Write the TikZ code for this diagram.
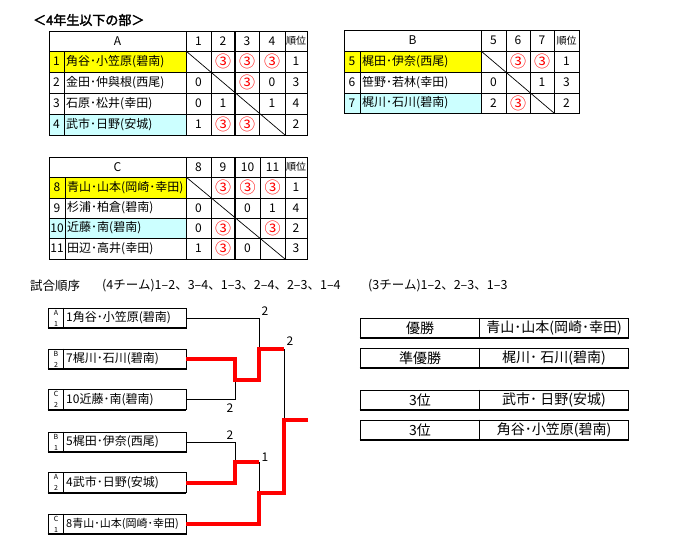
\documentclass[tikz,border=0pt]{standalone}
\usepackage{fontspec}
\setmainfont{Noto Sans CJK JP}
\newfontfamily\titlefont[FakeBold=2.5]{Noto Sans CJK JP}
\definecolor{tyel}{HTML}{FFFF00}
\definecolor{tcyan}{HTML}{CCFFFF}
\definecolor{tred}{HTML}{FF0000}
\newcommand\mk{{\fontsize{16}{16}\selectfont\textcolor{tred}{③}}}
\begin{document}
\begin{tikzpicture}[x=1pt,y=-1pt,
  grid/.style={line width=0.9pt,black},
  thickgrid/.style={line width=2pt,black},
  txt/.style={inner sep=0pt,font=\fontsize{12}{12}\selectfont},
  nm/.style={txt,anchor=west},
  ord/.style={inner sep=0pt,anchor=west,font=\fontsize{12.5}{12.5}\selectfont},
  rk/.style={inner sep=0pt,font=\fontsize{10}{10}\selectfont},
  tiny/.style={inner sep=0pt,font=\fontsize{7}{7}\selectfont},
  bbox/.style={draw,line width=0.9pt,minimum width=138pt,minimum height=20pt,inner sep=0pt},
  rbox/.style={draw,line width=0.9pt,minimum width=268pt,minimum height=20pt,inner sep=0pt},
  rtxt/.style={inner sep=0pt,font=\fontsize{14}{14}\selectfont},
  win/.style={line width=4pt,tred},
  lose/.style={line width=0.9pt,black},
  lbl/.style={inner sep=0pt,font=\fontsize{12}{12}\selectfont}]
\useasboundingbox[fill=white] (0,0) rectangle (682,547);

% title
\node[anchor=west,inner sep=0pt,font=\titlefont\fontsize{13}{13}\selectfont] (title) at (33,20) {＜4年生以下の部＞};

% ---------- Table A ----------
\fill[tyel] (49,51) rectangle (186,72);
\fill[tcyan] (49,114) rectangle (186,135);
\draw[grid] (49,31) rectangle (307,135);
\foreach \y in {51,72,93,114} \draw[grid] (49,\y) -- (307,\y);
\draw[grid] (64,51) -- (64,135);
\foreach \x in {186,211,259,285} \draw[grid] (\x,31) -- (\x,135);
\draw[thickgrid] (235,31) -- (235,135);
\draw[line width=0.7pt] (186,51) -- (285,135);
\node[txt] (Ah) at (117.5,41) {A};
\node[txt] (Ah1) at (198.5,41) {1};
\node[txt] (Ah2) at (223,41) {2};
\node[txt] (Ah3) at (247,41) {3};
\node[txt] (Ah4) at (272,41) {4};
\node[rk] (Ahr) at (296,41) {順位};
\node[txt] (A1n) at (56.5,61.5) {1};
\node[nm] (A1m) at (66,61.5) {角谷･小笠原(碧南)};
\node[txt] (A12) at (223,61.5) {\mk};
\node[txt] (A13) at (247,61.5) {\mk};
\node[txt] (A14) at (272,61.5) {\mk};
\node[txt] (A1r) at (296,61.5) {1};
\node[txt] (A2n) at (56.5,82.5) {2};
\node[nm] (A2m) at (66,82.5) {金田･仲與根(西尾)};
\node[txt] (A21) at (198.5,82.5) {0};
\node[txt] (A23) at (247,82.5) {\mk};
\node[txt] (A24) at (272,82.5) {0};
\node[txt] (A2r) at (296,82.5) {3};
\node[txt] (A3n) at (56.5,103.5) {3};
\node[nm] (A3m) at (66,103.5) {石原･松井(幸田)};
\node[txt] (A31) at (198.5,103.5) {0};
\node[txt] (A32) at (223,103.5) {1};
\node[txt] (A34) at (272,103.5) {1};
\node[txt] (A3r) at (296,103.5) {4};
\node[txt] (A4n) at (56.5,124.5) {4};
\node[nm] (A4m) at (66,124.5) {武市･日野(安城)};
\node[txt] (A41) at (198.5,124.5) {1};
\node[txt] (A42) at (223,124.5) {\mk};
\node[txt] (A43) at (247,124.5) {\mk};
\node[txt] (A4r) at (296,124.5) {2};

% ---------- Table B ----------
\fill[tyel] (344,51) rectangle (481,72);
\fill[tcyan] (344,93) rectangle (481,113);
\draw[grid] (344,30) rectangle (579,113);
\foreach \y in {51,72,93} \draw[grid] (344,\y) -- (579,\y);
\draw[grid] (360,51) -- (360,113);
\foreach \x in {481,506,530,554} \draw[grid] (\x,30) -- (\x,113);
\draw[line width=0.7pt] (481,51) -- (554,113);
\node[txt] (Bh) at (412.5,40.5) {B};
\node[txt] (Bh5) at (493.5,40.5) {5};
\node[txt] (Bh6) at (518,40.5) {6};
\node[txt] (Bh7) at (542,40.5) {7};
\node[rk] (Bhr) at (566.5,40.5) {順位};
\node[txt] (B5n) at (352,61.5) {5};
\node[nm] (B5m) at (362,61.5) {梶田･伊奈(西尾)};
\node[txt] (B56) at (518,61.5) {\mk};
\node[txt] (B57) at (542,61.5) {\mk};
\node[txt] (B5r) at (566.5,61.5) {1};
\node[txt] (B6n) at (352,82.5) {6};
\node[nm] (B6m) at (362,82.5) {笹野･若林(幸田)};
\node[txt] (B65) at (493.5,82.5) {0};
\node[txt] (B67) at (542,82.5) {1};
\node[txt] (B6r) at (566.5,82.5) {3};
\node[txt] (B7n) at (352,103) {7};
\node[nm] (B7m) at (362,103) {梶川･石川(碧南)};
\node[txt] (B75) at (493.5,103) {2};
\node[txt] (B76) at (518,103) {\mk};
\node[txt] (B7r) at (566.5,103) {2};

% ---------- Table C ----------
\fill[tyel] (49,177) rectangle (186,198);
\fill[tcyan] (49,218) rectangle (186,238);
\draw[grid] (49,157) rectangle (307,259);
\foreach \y in {177,198,218,238} \draw[grid] (49,\y) -- (307,\y);
\draw[grid] (65,177) -- (65,259);
\foreach \x in {186,211,260,285} \draw[grid] (\x,157) -- (\x,259);
\draw[thickgrid] (235,157) -- (235,259);
\draw[line width=0.7pt] (186,177) -- (285,259);
\node[txt] (Ch) at (117.5,167) {C};
\node[txt] (Ch8) at (198.5,167) {8};
\node[txt] (Ch9) at (223,167) {9};
\node[txt] (Ch10) at (247.5,167) {10};
\node[txt] (Ch11) at (272.5,167) {11};
\node[rk] (Chr) at (296,167) {順位};
\node[txt] (C8n) at (57,187.5) {8};
\node[nm] (C8m) at (67,187.5) {青山･山本(岡崎･幸田)};
\node[txt] (C89) at (223,187.5) {\mk};
\node[txt] (C810) at (247.5,187.5) {\mk};
\node[txt] (C811) at (272.5,187.5) {\mk};
\node[txt] (C8r) at (296,187.5) {1};
\node[txt] (C9n) at (57,208) {9};
\node[nm] (C9m) at (67,208) {杉浦･柏倉(碧南)};
\node[txt] (C98) at (198.5,208) {0};
\node[txt] (C910) at (247.5,208) {0};
\node[txt] (C911) at (272.5,208) {1};
\node[txt] (C9r) at (296,208) {4};
\node[txt] (C10n) at (57,228) {10};
\node[nm] (C10m) at (67,228) {近藤･南(碧南)};
\node[txt] (C108) at (198.5,228) {0};
\node[txt] (C109) at (223,228) {\mk};
\node[txt] (C1011) at (272.5,228) {\mk};
\node[txt] (C10r) at (296,228) {2};
\node[txt] (C11n) at (57,248.5) {11};
\node[nm] (C11m) at (67,248.5) {田辺･高井(幸田)};
\node[txt] (C118) at (198.5,248.5) {1};
\node[txt] (C119) at (223,248.5) {\mk};
\node[txt] (C1110) at (247.5,248.5) {0};
\node[txt] (C11r) at (296,248.5) {3};

% ---------- match order ----------
\node[ord] (mo1) at (30,286) {試合順序};
\node[ord] (mo2) at (102,286) {(4チーム)1–2、3–4、1–3、2–4、2–3、1–4};
\node[ord] (mo3) at (368,286) {(3チーム)1–2、2–3、1–3};

% ---------- bracket boxes ----------
\foreach \n/\y/\g/\s/\t in {
  t1/318/A/1/{1角谷･小笠原(碧南)},
  t2/359/B/2/{7梶川･石川(碧南)},
  t3/399.5/C/2/{10近藤･南(碧南)},
  t4/442/B/1/{5梶田･伊奈(西尾)},
  t5/482.5/A/2/{4武市･日野(安城)},
  t6/524/C/1/{\fontsize{11}{11}\selectfont 8青山･山本(岡崎･幸田)}} {
  \node[bbox] (\n) at (117,\y) {};
  \draw[line width=0.9pt] ([xshift=16pt]\n.north west) -- ([xshift=16pt]\n.south west);
  \draw[line width=2pt] (\n.south west) -- (\n.south east);
  \draw[line width=1.6pt] (\n.south east) -- (\n.north east);
  \node[tiny] (\n g) at (56,\y-5.5) {\g};
  \node[tiny] (\n s) at (56,\y+5.5) {\s};
  \node[nm] (\n m) at (66,\y) {\t};
}

% junction coordinates
\coordinate (k1) at (235,380);
\coordinate (j1) at (259,349);
\coordinate (f1) at (284,349);
\coordinate (fm) at (284,420);
\coordinate (champ) at (308,420);
\coordinate (k2) at (235,462);
\coordinate (j3) at (259,462);
\coordinate (j2) at (259,493);
\coordinate (f2) at (284,493);

% losing lines
\draw[lose] (t1.east) -| (j1);
\draw[lose] (t3.east) -| (k1);
\draw[lose] (f1) -- (fm);
\draw[lose] (t4.east) -| (k2);
\draw[lose] (j3) -- (j2);

% winning lines
\draw[win] (t2.east) -| (k1) -| (j1) -- (f1);
\draw[win] (t5.east) -| (k2) -- (j3);
\draw[win] (champ) -- (fm) -- (f2) -- (j2) |- (t6.east);

% scores
\node[lbl] (s1) at (265,311) {2};
\node[lbl] (s2) at (290,341) {2};
\node[lbl] (s3) at (230,408) {2};
\node[lbl] (s4) at (230,435) {2};
\node[lbl] (s5) at (265,457) {1};

% ---------- results ----------
\foreach \n/\y/\a/\b in {
  r1/328/{優勝}/{青山･山本(岡崎･幸田)},
  r2/358/{準優勝}/{梶川･ 石川(碧南)},
  r3/400/{3位}/{武市･ 日野(安城)},
  r4/430/{3位}/{角谷･小笠原(碧南)}} {
  \node[rbox] (\n) at (494,\y) {};
  \draw[line width=0.9pt] ([xshift=120pt]\n.north west) -- ([xshift=120pt]\n.south west);
  \draw[line width=2pt] (\n.south west) -- (\n.south east);
  \node[rtxt] (\n a) at (420,\y) {\a};
  \node[rtxt] (\n b) at (554,\y) {\b};
}
\end{tikzpicture}
\end{document}
